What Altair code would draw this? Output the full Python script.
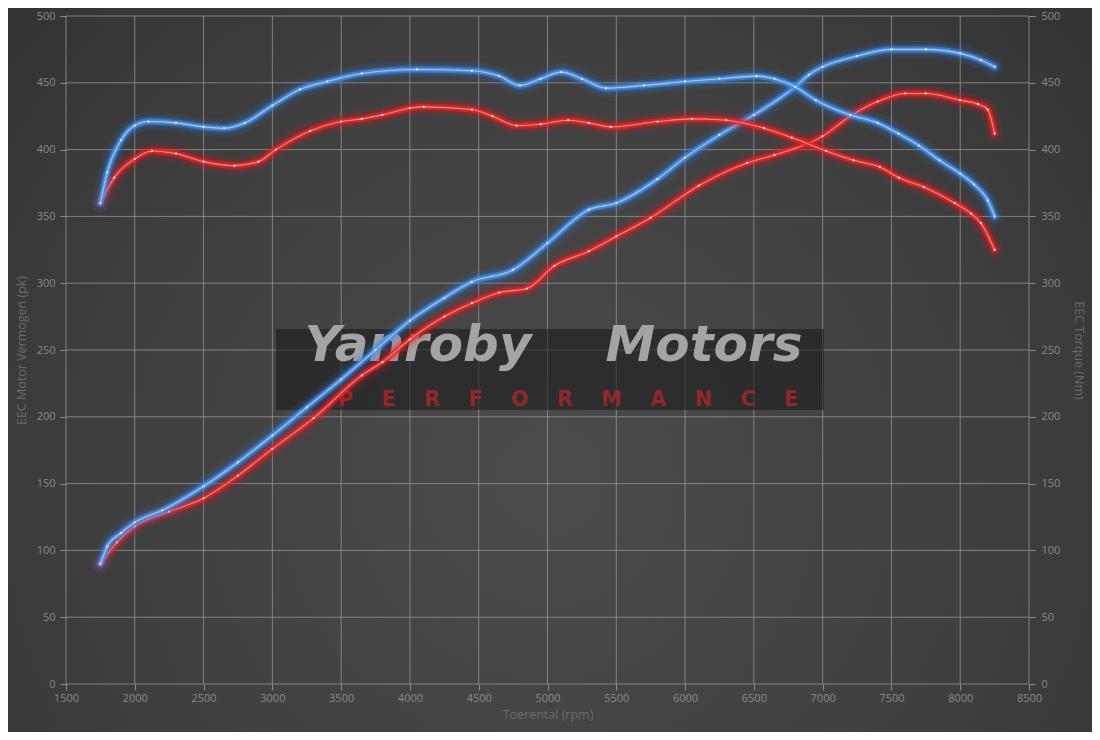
import altair as alt
import pandas as pd

# ---------------- data ----------------
RPM_TUNED_POWER = [1750, 1800, 1900, 2000, 2200, 2500, 2750, 3000, 3250, 3500, 3750, 4000, 4250, 4450,
                   4750, 5000, 5300, 5500, 5800, 6000, 6250, 6500, 6800, 6900, 7000, 7250, 7500, 7750,
                   8000, 8150, 8250]
TUNED_POWER = [90, 103, 113, 121, 130, 148, 166, 186, 207, 228, 250, 272, 289, 301,
               310, 330, 355, 360, 378, 394, 411, 426, 447, 456, 462, 470, 475, 475,
               472, 467, 462]

RPM_STOCK_POWER = [1750, 1870, 2000, 2250, 2500, 2750, 3000, 3300, 3650, 3800, 4000, 4250, 4450, 4650,
                   4850, 5050, 5300, 5500, 5750, 6100, 6450, 6650, 7000, 7200, 7400, 7600, 7750, 8000,
                   8130, 8200, 8250]
STOCK_POWER = [90, 106, 118, 129, 139, 156, 176, 199, 231, 241, 258, 275, 285, 293,
               296, 313, 324, 335, 349, 373, 390, 396, 410, 425, 436, 442, 442, 437,
               434, 430, 412]

RPM_TUNED_TORQUE = [1750, 1800, 1900, 2000, 2100, 2300, 2500, 2650, 2800, 3000, 3200, 3400, 3650, 4050,
                    4450, 4650, 4800, 4950, 5100, 5250, 5425, 5700, 6000, 6250, 6520, 6650, 6800, 6950,
                    7200, 7400, 7550, 7700, 7850, 8000, 8100, 8200, 8250]
TUNED_TORQUE = [360, 383, 407, 418, 421, 420, 417, 416, 420, 433, 445, 451, 457, 460,
                459, 455, 448, 453, 458, 453, 446, 448, 451, 453, 455, 453, 447, 437,
                426, 420, 412, 403, 392, 382, 374, 362, 350]

RPM_STOCK_TORQUE = [1750, 1850, 2000, 2125, 2300, 2500, 2725, 2900, 3025, 3275, 3500, 3650, 3800, 4000,
                    4100, 4450, 4600, 4775, 4950, 5150, 5300, 5460, 5800, 6050, 6300, 6575, 6775, 7025,
                    7225, 7415, 7555, 7735, 7960, 8080, 8150, 8250]
STOCK_TORQUE = [360, 379, 393, 399, 397, 391, 388, 391, 400, 414, 421, 423, 426, 431,
                432, 430, 425, 418, 419, 422, 420, 417, 421, 423, 422, 416, 409, 399,
                392, 387, 379, 372, 360, 352, 345, 325]

X_TICKS = [1500, 2000, 2500, 3000, 3500, 4000, 4500, 5000, 5500, 6000, 6500, 7000, 7500, 8000, 8500]
Y_TICKS = [0, 50, 100, 150, 200, 250, 300, 350, 400, 450, 500]

X_TITLE = "Toerental (rpm)"
Y_LEFT_TITLE = "EEC Motor Vermogen (pk)"
Y_RIGHT_TITLE = "EEC Torque (Nm)"
LOGO_WORD_1 = "Yanroby"
LOGO_WORD_2 = "Motors"
LOGO_SUB = "\u00a0\u00a0\u00a0\u00a0".join(list("PERFORMANCE"))

# ---------------- layout / style ----------------
W, H = 963, 668
PAD = {"left": 58, "top": 8, "right": 63, "bottom": 48}
FONT = "Open Sans"
BLUE = ("#2a7de8", "#4d93e6", "#b4d6ff")
RED = ("#e8141a", "#e42828", "#ffa098")

xscale = alt.Scale(domain=[1500, 8500], nice=False, zero=False)
yscale = alt.Scale(domain=[0, 500], nice=False)

one = pd.DataFrame({"k": [0]})

bg = alt.Chart(one).mark_rect(
    fill=alt.RadialGradient(
        gradient="radial",
        stops=[alt.GradientStop(color="#4b4b4b", offset=0),
               alt.GradientStop(color="#3e3e3e", offset=0.55),
               alt.GradientStop(color="#2c2c2c", offset=1)],
        x1=0.5, y1=0.6, x2=0.5, y2=0.6, r1=0, r2=0.78)
).encode(x=alt.value(-PAD["left"] - 10), x2=alt.value(W + PAD["right"] + 10),
         y=alt.value(-PAD["top"] - 10), y2=alt.value(H + PAD["bottom"] + 10))

GRID = "#9a9a9a"
AX = dict(grid=False, tickSize=6, zindex=1, domain=False, labelColor="#8a8a8a", labelFont=FONT,
          labelFontSize=11, labelFlush=False, titleColor="#6c6c6c", titleFont=FONT, titleFontSize=12.5,
          titleFontWeight="normal", tickColor="#8c8c8c")

vgrid = alt.Chart(pd.DataFrame({"rpm": X_TICKS})).mark_rule(color=GRID, strokeWidth=1, opacity=0.75).encode(
    x=alt.X("rpm:Q", scale=xscale,
            axis=alt.Axis(orient="bottom", values=X_TICKS, title=X_TITLE, labelPadding=2, titlePadding=5,
                          format="d", **AX)),
    y=alt.value(0), y2=alt.value(H))

hgrid = alt.Chart(pd.DataFrame({"v": Y_TICKS})).mark_rule(color=GRID, strokeWidth=1, opacity=0.75).encode(
    y=alt.Y("v:Q", scale=yscale,
            axis=alt.Axis(orient="left", values=Y_TICKS, title=Y_LEFT_TITLE, labelPadding=5,
                          titlePadding=8, **AX)),
    x=alt.value(0), x2=alt.value(W))

logo_box = alt.Chart(one).mark_rect(fill="#1c1c1c", opacity=0.6).encode(
    x=alt.value(210), x2=alt.value(758), y=alt.value(313), y2=alt.value(394))

logo1 = alt.Chart(one).mark_text(text=LOGO_WORD_1, font="DejaVu Sans", fontWeight="bold", fontStyle="italic",
                                 fontSize=50, color="#a4a4a4", align="center", baseline="alphabetic").encode(
    x=alt.value(352), y=alt.value(345))
logo2 = alt.Chart(one).mark_text(text=LOGO_WORD_2, font="DejaVu Sans", fontWeight="bold", fontStyle="italic",
                                 fontSize=50, color="#a4a4a4", align="center", baseline="alphabetic").encode(
    x=alt.value(638), y=alt.value(345))
logo3 = alt.Chart(one).mark_text(text=LOGO_SUB, font="DejaVu Sans", fontWeight="bold",
                                 fontSize=20.5, color="#a52626", opacity=0.85, align="center",
                                 baseline="middle").encode(
    x=alt.value(502), y=alt.value(384))


def curve(rpms, vals, colors, y_axis=None):
    df = pd.DataFrame({"rpm": rpms, "v": vals})
    base = alt.Chart(df)
    xe = alt.X("rpm:Q", scale=xscale, axis=None)
    ye = alt.Y("v:Q", scale=yscale, axis=None)
    layers = []
    for w, op, col in [(18, 0.10, colors[0]), (11, 0.22, colors[0]), (6.5, 0.55, colors[1]),
                       (3.5, 0.85, colors[1])]:
        layers.append(base.mark_line(interpolate="monotone", strokeWidth=w, opacity=op, color=col,
                                     strokeCap="round", strokeJoin="round").encode(x=xe, y=ye))
    layers.append(base.mark_line(interpolate="monotone", strokeWidth=1.1, opacity=0.8, color=colors[2]).encode(
        x=xe, y=alt.Y("v:Q", scale=yscale, axis=y_axis) if y_axis is not None else ye))
    layers.append(base.mark_circle(size=5, opacity=0.9, color="#f4f4f4").encode(x=xe, y=ye))
    return layers


right_axis = alt.Axis(orient="right", values=Y_TICKS, title=Y_RIGHT_TITLE, labelPadding=6,
                      titlePadding=12, **AX)

layers = [bg, vgrid, hgrid, logo_box, logo1, logo2, logo3]
layers += curve(RPM_STOCK_POWER, STOCK_POWER, RED)
layers += curve(RPM_TUNED_POWER, TUNED_POWER, BLUE)
layers += curve(RPM_STOCK_TORQUE, STOCK_TORQUE, RED, y_axis=right_axis)
layers += curve(RPM_TUNED_TORQUE, TUNED_TORQUE, BLUE)

chart = alt.layer(*layers).resolve_axis(x="independent", y="independent").properties(
    width=W, height=H, padding=PAD, background="#333333",
    autosize=alt.AutoSizeParams(type="none"),
).configure_view(stroke=None)

chart.save("out.html", embed_options={"renderer": "svg", "actions": False})
